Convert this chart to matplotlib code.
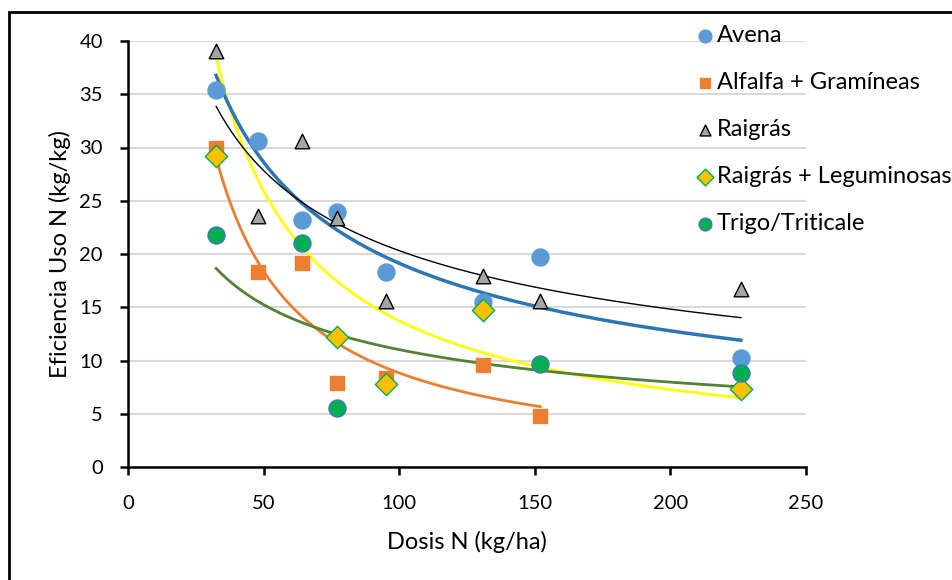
import numpy as np
import matplotlib
matplotlib.use('Agg')
import matplotlib.pyplot as plt
from matplotlib.patches import Rectangle

plt.rcParams['font.family'] = ['Lato', 'DejaVu Sans']

# -- data
avena_x = [32.5, 48, 64, 77, 95, 131, 152, 226]
avena_y = [35.4, 30.6, 23.2, 23.9, 18.3, 15.5, 19.7, 10.2]

alfalfa_x = [32.5, 48, 64, 77, 95, 131, 152]
alfalfa_y = [30.0, 18.3, 19.2, 7.9, 8.4, 9.6, 4.8]

raigras_x = [32.5, 48, 64, 77, 95, 131, 152, 226]
raigras_y = [39.1, 23.6, 30.6, 23.4, 15.6, 17.9, 15.6, 16.7]

rleg_x = [32.5, 77, 95, 131, 226]
rleg_y = [29.2, 12.2, 7.8, 14.7, 7.3]

trigo_x = [32.5, 64, 77, 152, 226]
trigo_y = [21.8, 21.0, 5.5, 9.7, 8.8]

# yellow trend line (no matching series), end values
yellow_x = [32.5, 226]
yellow_y = [38.5, 6.5]


def power_fit(x, y):
    b, lna = np.polyfit(np.log(x), np.log(y), 1)
    xs = np.linspace(min(x), max(x), 200)
    return xs, np.exp(lna) * xs ** b


fig = plt.figure(figsize=(9.52, 5.8), dpi=100)
ax = fig.add_axes([128 / 952, 113 / 580, 678 / 952, 426 / 580])

# -- trend lines
xs, ys = power_fit(yellow_x, yellow_y)
ax.plot(xs, ys, color='#FFFF00', lw=2, zorder=2)
xs, ys = power_fit(alfalfa_x, alfalfa_y)
ax.plot(xs, ys, color='#ED7D31', lw=2, zorder=2)
xs, ys = power_fit(trigo_x, trigo_y)
ax.plot(xs, ys, color='#548235', lw=2, zorder=2)
xs, ys = power_fit(avena_x, avena_y)
ax.plot(xs, ys, color='#2E75B6', lw=2.5, zorder=2)
xs, ys = power_fit(raigras_x, raigras_y)
ax.plot(xs, ys, color='black', lw=1, zorder=2)

# -- points
ax.scatter(avena_x, avena_y, s=150, marker='o', c='#5B9BD5', edgecolors='#5B9BD5', label='Avena', zorder=3)
ax.scatter(alfalfa_x, alfalfa_y, s=110, marker='s', c='#ED7D31', edgecolors='#ED7D31', label='Alfalfa + Gramíneas', zorder=3)
ax.scatter(raigras_x, raigras_y, s=110, marker='^', c='#A5A5A5', edgecolors='black', linewidths=1, label='Raigrás', zorder=3)
ax.scatter(rleg_x, rleg_y, s=130, marker='D', c='#FFC000', edgecolors='#00B050', linewidths=1, label='Raigrás + Leguminosas', zorder=4)
ax.scatter(trigo_x, trigo_y, s=150, marker='o', c='#00B050', edgecolors='#4472C4', linewidths=1, label='Trigo/Triticale', zorder=4)

ax.set_xlim(0, 250)
ax.set_ylim(0, 40)
ax.set_xticks(range(0, 251, 50))
ax.set_yticks(range(0, 41, 5))
ax.yaxis.grid(True, color='#D9D9D9', lw=1.5)
ax.set_axisbelow(True)
for s in ['top', 'right']:
    ax.spines[s].set_visible(False)
for s in ['left', 'bottom']:
    ax.spines[s].set_linewidth(1.8)
ax.tick_params(direction='out', length=6, width=1.8, labelsize=14.5)
ax.tick_params(axis='x', pad=14)
ax.tick_params(axis='y', pad=12)

ax.set_xlabel('Dosis N (kg/ha)', fontsize=17, labelpad=14)
ax.set_ylabel('Eficiencia Uso N (kg/kg)', fontsize=17, labelpad=6)

leg = ax.legend(loc='upper left', bbox_to_anchor=(684 / 952, 1 - 16 / 580), bbox_transform=fig.transFigure,
                frameon=False, fontsize=17, handletextpad=0.0, labelspacing=1.1, borderaxespad=0,
                handlelength=1.0, scatterpoints=1, markerscale=0.75)

# outer border, only top/left visible in the reference
fig.patches.append(Rectangle((9 / 952, -0.1), 1.2, 1 - 12 / 580 + 0.1, transform=fig.transFigure,
                             fill=False, edgecolor='black', lw=2, zorder=0))

fig.savefig('out.png', dpi=100)
